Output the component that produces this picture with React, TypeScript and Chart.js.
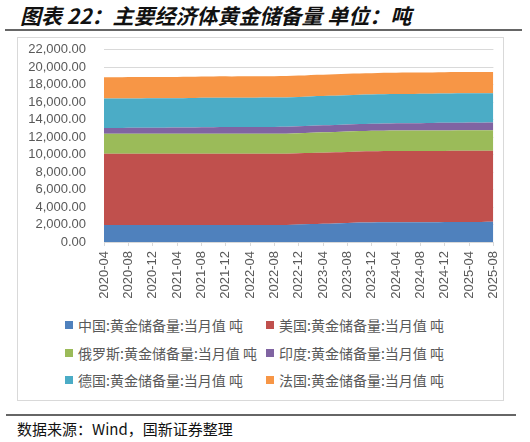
import { useEffect, useRef } from "react";
import { Chart, registerables } from "chart.js";

Chart.register(...registerables);

const months = [
  "2020-04", "2020-05", "2020-06", "2020-07", "2020-08", "2020-09", "2020-10", "2020-11", "2020-12",
  "2021-01", "2021-02", "2021-03", "2021-04", "2021-05", "2021-06", "2021-07", "2021-08", "2021-09", "2021-10", "2021-11", "2021-12",
  "2022-01", "2022-02", "2022-03", "2022-04", "2022-05", "2022-06", "2022-07", "2022-08", "2022-09", "2022-10", "2022-11", "2022-12",
  "2023-01", "2023-02", "2023-03", "2023-04", "2023-05", "2023-06", "2023-07", "2023-08", "2023-09", "2023-10", "2023-11", "2023-12",
  "2024-01", "2024-02", "2024-03", "2024-04", "2024-05", "2024-06", "2024-07", "2024-08", "2024-09", "2024-10", "2024-11", "2024-12",
  "2025-01", "2025-02", "2025-03", "2025-04", "2025-05", "2025-06", "2025-07", "2025-08",
];

const tickLabels = [
  "2020-04", "2020-08", "2020-12", "2021-04", "2021-08", "2021-12", "2022-04", "2022-08", "2022-12",
  "2023-04", "2023-08", "2023-12", "2024-04", "2024-08", "2024-12", "2025-04", "2025-08",
];

const china = [
  1948.3, 1948.3, 1948.3, 1948.3, 1948.3, 1948.3, 1948.3, 1948.3, 1948.3,
  1948.3, 1948.3, 1948.3, 1948.3, 1948.3, 1948.3, 1948.3, 1948.3, 1948.3, 1948.3, 1948.3, 1948.3,
  1948.3, 1948.3, 1948.3, 1948.3, 1948.3, 1948.3, 1948.3, 1948.3, 1948.3, 1948.3, 1980.5, 2010.5,
  2024.9, 2049.8, 2068.3, 2076.4, 2092.0, 2113.0, 2136.0, 2165.0, 2191.5, 2215.2, 2226.0, 2235.4,
  2245.3, 2257.1, 2262.4, 2264.3, 2264.3, 2264.3, 2264.3, 2264.3, 2264.3, 2264.3, 2269.3, 2279.6,
  2285.0, 2289.9, 2292.3, 2294.5, 2296.4, 2298.5, 2300.4, 2302.3,
];

const usa = [
  8133.5, 8133.5, 8133.5, 8133.5, 8133.5, 8133.5, 8133.5, 8133.5, 8133.5,
  8133.5, 8133.5, 8133.5, 8133.5, 8133.5, 8133.5, 8133.5, 8133.5, 8133.5, 8133.5, 8133.5, 8133.5,
  8133.5, 8133.5, 8133.5, 8133.5, 8133.5, 8133.5, 8133.5, 8133.5, 8133.5, 8133.5, 8133.5, 8133.5,
  8133.5, 8133.5, 8133.5, 8133.5, 8133.5, 8133.5, 8133.5, 8133.5, 8133.5, 8133.5, 8133.5, 8133.5,
  8133.5, 8133.5, 8133.5, 8133.5, 8133.5, 8133.5, 8133.5, 8133.5, 8133.5, 8133.5, 8133.5, 8133.5,
  8133.5, 8133.5, 8133.5, 8133.5, 8133.5, 8133.5, 8133.5, 8133.5,
];

const russia = [
  2299.1, 2299.0, 2299.0, 2299.2, 2299.3, 2299.3, 2299.6, 2299.7, 2299.9,
  2298.3, 2297.9, 2295.4, 2295.4, 2295.6, 2298.7, 2301.2, 2301.6, 2301.6, 2301.6, 2298.5, 2298.5,
  2298.5, 2298.5, 2298.5, 2298.5, 2298.5, 2298.5, 2298.5, 2298.5, 2298.5, 2298.5, 2298.5, 2298.5,
  2298.5, 2310.0, 2326.5, 2326.5, 2326.5, 2329.6, 2329.6, 2329.6, 2329.6, 2329.6, 2332.7, 2332.7,
  2332.7, 2335.9, 2335.9, 2335.9, 2335.9, 2335.9, 2335.9, 2335.9, 2335.9, 2335.9, 2335.9, 2335.9,
  2335.9, 2335.9, 2335.9, 2335.9, 2335.9, 2329.6, 2329.6, 2329.6,
];

const india = [
  653.0, 653.0, 657.7, 660.7, 668.2, 668.2, 668.3, 676.6, 676.6,
  680.2, 687.0, 695.3, 695.3, 705.6, 705.6, 705.6, 743.8, 743.8, 743.8, 754.1, 754.1,
  754.1, 757.4, 760.4, 760.4, 760.4, 768.3, 768.3, 768.3, 785.3, 785.3, 785.3, 787.4,
  787.4, 790.2, 794.6, 794.6, 797.5, 797.5, 797.5, 797.5, 800.8, 803.6, 803.6, 803.6,
  812.3, 817.4, 822.1, 827.7, 840.8, 840.8, 840.8, 846.8, 854.7, 854.7, 876.2, 876.2,
  879.0, 879.0, 879.6, 879.6, 879.6, 879.6, 880.0, 880.0,
];

const germany = [
  3363.6, 3363.6, 3363.6, 3363.6, 3363.6, 3363.6, 3363.6, 3363.6, 3363.6,
  3359.1, 3359.1, 3359.1, 3359.1, 3359.1, 3359.1, 3359.1, 3359.1, 3359.1, 3359.1, 3359.1, 3359.1,
  3355.1, 3355.1, 3355.1, 3355.1, 3355.1, 3355.1, 3355.1, 3355.1, 3355.1, 3355.1, 3355.1, 3355.1,
  3352.6, 3352.6, 3352.6, 3352.6, 3352.6, 3352.6, 3352.6, 3352.6, 3352.6, 3352.6, 3352.6, 3352.6,
  3351.5, 3351.5, 3351.5, 3351.5, 3351.5, 3351.5, 3351.5, 3351.5, 3351.5, 3351.5, 3351.5, 3351.5,
  3350.3, 3350.3, 3350.3, 3350.3, 3350.3, 3350.3, 3350.3, 3350.3,
];

const france = [
  2436.0, 2436.0, 2436.0, 2436.0, 2436.0, 2436.0, 2436.0, 2436.0, 2436.0,
  2436.4, 2436.4, 2436.4, 2436.4, 2436.4, 2436.4, 2436.4, 2436.4, 2436.4, 2436.4, 2436.4, 2436.4,
  2436.9, 2436.9, 2436.9, 2436.9, 2436.9, 2436.9, 2436.9, 2436.9, 2436.9, 2436.9, 2436.9, 2436.9,
  2436.9, 2436.9, 2436.9, 2436.9, 2436.9, 2436.9, 2436.9, 2436.9, 2436.9, 2436.9, 2436.9, 2436.9,
  2437.0, 2437.0, 2437.0, 2437.0, 2437.0, 2437.0, 2437.0, 2437.0, 2437.0, 2437.0, 2437.0, 2437.0,
  2437.0, 2437.0, 2437.0, 2437.0, 2437.0, 2437.0, 2437.0, 2437.0,
];

const seriesNames = [
  "中国:黄金储备量:当月值 吨",
  "美国:黄金储备量:当月值 吨",
  "俄罗斯:黄金储备量:当月值 吨",
  "印度:黄金储备量:当月值 吨",
  "德国:黄金储备量:当月值 吨",
  "法国:黄金储备量:当月值 吨",
];
const seriesValues = [china, usa, russia, india, germany, france];
const seriesColors = ["#4f81bd", "#c0504d", "#9bbb59", "#8064a2", "#4bacc6", "#f79646"];

const FONT = "'Liberation Sans', 'Noto Sans CJK SC', sans-serif";
const CJK = "'Noto Sans CJK SC', 'Liberation Sans', sans-serif";

export default function App() {
  const ref = useRef<HTMLCanvasElement>(null);

  useEffect(() => {
    document.body.style.margin = "0";
    const chart = new Chart(ref.current as HTMLCanvasElement, {
      type: "line",
      data: {
        labels: months,
        datasets: seriesValues.map((vals, i) => ({
          label: seriesNames[i],
          data: vals,
          backgroundColor: seriesColors[i],
          borderColor: seriesColors[i],
          borderWidth: 0,
          pointRadius: 0,
          tension: 0,
          fill: i === 0 ? "origin" : "-1",
        })),
      },
      options: {
        animation: false,
        responsive: true,
        maintainAspectRatio: false,
        layout: { padding: { top: 12.5, right: 12, left: 0, bottom: 0 } },
        plugins: { legend: { display: false }, tooltip: { enabled: false } },
        scales: {
          x: {
            grid: { drawOnChartArea: false, drawTicks: true, tickLength: 4, color: "#d9d9d9" },
            border: { color: "#d9d9d9" },
            ticks: {
              autoSkip: false,
              maxRotation: 90,
              minRotation: 90,
              padding: 5,
              color: "#595959",
              font: { size: 13, family: FONT },
              callback: (_v: any, i: number) => (tickLabels.includes(months[i]) ? months[i] : null),
            },
            afterFit: (s: any) => {
              s.height = 65;
            },
          },
          y: {
            stacked: true,
            min: 0,
            max: 22000,
            ticks: {
              stepSize: 2000,
              autoSkip: false,
              padding: 0,
              color: "#595959",
              font: { size: 13, family: FONT },
              callback: (v: any) =>
                Number(v).toLocaleString("en-US", { minimumFractionDigits: 2, maximumFractionDigits: 2 }),
            },
            grid: { color: "#d9d9d9", drawTicks: true, tickLength: 18, tickColor: "rgba(0,0,0,0)" },
            border: { display: false },
            afterFit: (s: any) => {
              s.width = 87;
            },
          },
        },
      },
    });
    return () => chart.destroy();
  }, []);

  const legendCols = [65, 266];
  const legendRows = [325, 353, 380];

  return (
    <div style={{ position: "relative", width: 530, height: 442, background: "#fff", overflow: "hidden" }}>
      <div
        style={{
          position: "absolute",
          left: 20,
          top: 1,
          fontFamily: CJK,
          fontSize: 21,
          fontWeight: 700,
          fontStyle: "italic",
          color: "#111",
          whiteSpace: "nowrap",
          lineHeight: "28px",
        }}
      >
        图表 22：主要经济体黄金储备量 单位：吨
      </div>
      <div style={{ position: "absolute", left: 5, top: 29, width: 517, height: 2, background: "#666" }} />
      <div
        style={{
          position: "absolute",
          left: 17,
          top: 37,
          width: 487,
          height: 364,
          border: "1px solid #d9d9d9",
          boxSizing: "border-box",
        }}
      />
      <div style={{ position: "absolute", left: 17, top: 37, width: 497, height: 270 }}>
        <canvas ref={ref} />
      </div>
      {seriesNames.map((name, i) => {
        const col = i % 2;
        const row = Math.floor(i / 2);
        return (
          <div
            key={name}
            style={{
              position: "absolute",
              left: legendCols[col],
              top: legendRows[row] - 10,
              height: 20,
              display: "flex",
              alignItems: "center",
              whiteSpace: "nowrap",
              fontFamily: CJK,
              fontSize: 14,
              color: "#595959",
            }}
          >
            <span style={{ display: "inline-block", width: 8, height: 8, background: seriesColors[i], marginRight: 5 }} />
            <span>{name}</span>
          </div>
        );
      })}
      <div style={{ position: "absolute", left: 6, top: 414, width: 510, height: 2, background: "#666" }} />
      <div
        style={{
          position: "absolute",
          left: 17,
          top: 419,
          fontFamily: CJK,
          fontSize: 15,
          color: "#111",
          whiteSpace: "nowrap",
          lineHeight: "20px",
        }}
      >
        数据来源：Wind，国新证券整理
      </div>
    </div>
  );
}
